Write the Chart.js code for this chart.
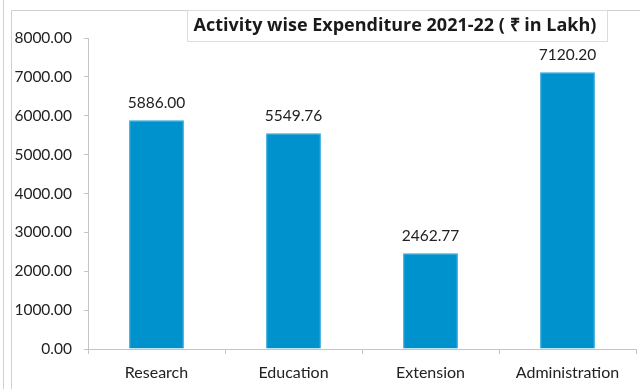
<!DOCTYPE html>
<html>
<head>
<meta charset="utf-8">
<script src="https://cdn.jsdelivr.net/npm/chart.js@4.4.1/dist/chart.umd.min.js"></script>
<style>
  html, body { margin: 0; padding: 0; background: #fff; }
  #wrap { width: 640px; height: 389px; position: relative; }
</style>
</head>
<body>
<div id="wrap"><canvas id="barChart" width="640" height="389"></canvas></div>
<script>
const titleText = "Activity wise Expenditure 2021-22 ( \u20B9 in Lakh)";
const categories = ["Research", "Education", "Extension", "Administration"];
const expenditure = [5886.00, 5549.76, 2462.77, 7120.20];
const yMin = 0;
const yMax = 8000;
const yStep = 1000;

const fontFamily = "Lato, 'Open Sans', sans-serif";
const lineColor = "#c4c4c4";

// frame lines + title box, like the excel screenshot
const framePlugin = {
    id: "frame",
    beforeDraw(chart) {
        const ctx = chart.ctx;
        ctx.save();
        ctx.strokeStyle = "#d0d0d0";
        ctx.lineWidth = 1;
        ctx.beginPath();
        ctx.moveTo(3.5, 0);
        ctx.lineTo(3.5, 389);
        ctx.moveTo(11.5, 10.5);
        ctx.lineTo(11.5, 389);
        ctx.moveTo(11.5, 10.5);
        ctx.lineTo(640, 10.5);
        ctx.stroke();
        ctx.strokeStyle = "#dcdcdc";
        ctx.strokeRect(187.5, 10.5, 420, 31);
        ctx.restore();
    },
    afterDraw(chart) {
        const ctx = chart.ctx;
        ctx.save();
        ctx.font = "bold 18px 'Open Sans', sans-serif";
        ctx.fillStyle = "#1a1a1a";
        ctx.textAlign = "center";
        ctx.textBaseline = "alphabetic";
        ctx.fillText(titleText, 395, 31);
        ctx.restore();
    }
};

// value labels over each bar
const valueLabels = {
    id: "valueLabels",
    afterDatasetsDraw(chart) {
        const ctx = chart.ctx;
        const meta = chart.getDatasetMeta(0);
        ctx.save();
        ctx.font = "15.5px " + fontFamily;
        ctx.fillStyle = "#222";
        ctx.textAlign = "center";
        ctx.textBaseline = "alphabetic";
        meta.data.forEach((bar, i) => {
            ctx.fillText(expenditure[i].toFixed(2), bar.x, bar.y - 12);
        });
        ctx.restore();
    }
};

const ctx = document.getElementById("barChart");
const barChart = new Chart(ctx, {
    type: "bar",
    data: {
        labels: categories,
        datasets: [{
            data: expenditure,
            backgroundColor: "#0092cc",
            borderColor: "#2aa6dc",
            borderWidth: 1,
            categoryPercentage: 1,
            barPercentage: 0.4
        }]
    },
    plugins: [framePlugin, valueLabels],
    options: {
        responsive: false,
        animation: false,
        layout: { padding: { left: 0, right: 4, top: 38, bottom: 0 } },
        plugins: {
            legend: { display: false },
            title: { display: false },
            tooltip: { enabled: false }
        },
        scales: {
            x: {
                grid: { drawOnChartArea: false, tickLength: 5, color: lineColor, offset: true },
                border: { color: lineColor },
                ticks: { color: "#222", padding: 9, font: { family: fontFamily, size: 16 } },
                afterFit(scale) { scale.height = 40; }
            },
            y: {
                min: yMin,
                max: yMax,
                grid: { drawOnChartArea: false, tickLength: 4, color: lineColor },
                border: { color: lineColor },
                ticks: {
                    stepSize: yStep,
                    color: "#222",
                    padding: 12,
                    font: { family: fontFamily, size: 15.5 },
                    callback: (v) => v.toFixed(2)
                },
                afterFit(scale) { scale.width = 88; }
            }
        }
    }
});
</script>
</body>
</html>
